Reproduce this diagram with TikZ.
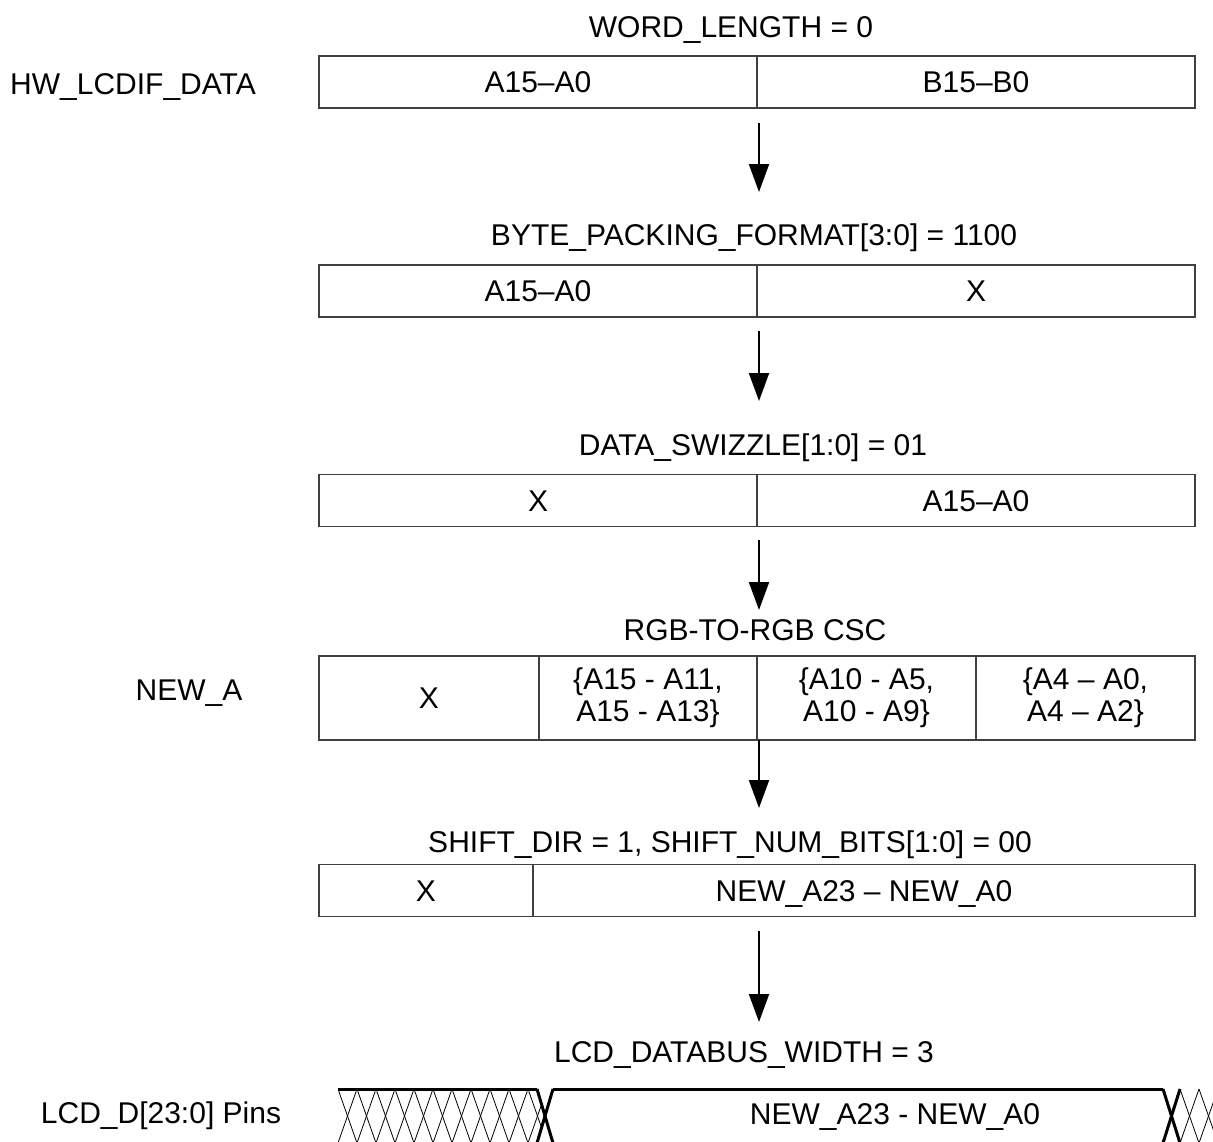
\documentclass[tikz,border=0pt]{standalone}
\usepackage{fontspec}
\setmainfont{Liberation Sans}
\usetikzlibrary{arrows.meta}
\begin{document}
\begin{tikzpicture}[x=1pt,y=-1pt,
  basefont/.style={font=\fontsize{30}{32}\selectfont},
  lab/.style={basefont, inner sep=0pt, text height=21.5pt, text depth=0pt},
  cell/.style={basefont, draw=black!75, line width=1.2pt, inner sep=0pt,
               text height=21.5pt, text depth=0pt, minimum height=52pt},
  cellb/.style={basefont, draw=black!75, line width=1.2pt, inner sep=0pt,
               align=center, minimum height=84pt},
  arr/.style={line width=2pt, -{Triangle[width=20pt,length=28pt]}},
  bus/.style={line width=3pt},
  hatch/.style={line width=0.8pt}]
\clip (0,0) rectangle (1213,1141);

% titles
\node[lab] (t1) at (731,27) {WORD\_LENGTH = 0};
\node[lab] (t2) at (754,235) {BYTE\_PACKING\_FORMAT[3:0] = 1100};
\node[lab] (t3) at (753,445) {DATA\_SWIZZLE[1:0] = 01};
\node[lab] (t4) at (755,630) {RGB-TO-RGB CSC};
\node[lab] (t5) at (730,842) {SHIFT\_DIR = 1, SHIFT\_NUM\_BITS[1:0] = 00};
\node[lab] (t6) at (744,1052) {LCD\_DATABUS\_WIDTH = 3};

% left labels
\node[lab, anchor=west] (l1) at (10,84) {HW\_LCDIF\_DATA};
\node[lab] (l2) at (189,690) {NEW\_A};
\node[lab] (l3) at (161,1113) {LCD\_D[23:0] Pins};

% box 1
\node[cell, minimum width=438pt] (b1a) at (538,82) {A15–A0};
\node[cell, minimum width=438pt] (b1b) at (976,82) {B15–B0};
% box 2
\node[cell, minimum width=438pt] (b2a) at (538,291) {A15–A0};
\node[cell, minimum width=438pt] (b2b) at (976,291) {X};
% box 3
\node[cell, minimum width=438pt] (b3a) at (538,500.5) {X};
\node[cell, minimum width=438pt] (b3b) at (976,500.5) {A15–A0};
% box 4
\node[cellb, minimum width=220pt] (b4a) at (429,698) {X};
\node[cellb, minimum width=218pt] (b4b) at (648,698) {\{A15 - A11,\\A15 - A13\}};
\node[cellb, minimum width=219pt] (b4c) at (866.5,698) {\{A10 - A5,\\A10 - A9\}};
\node[cellb, minimum width=219pt] (b4d) at (1085.5,698) {\{A4 – A0,\\A4 – A2\}};
% box 5
\node[cell, minimum width=214pt] (b5a) at (426,890.5) {X};
\node[cell, minimum width=662pt] (b5b) at (864,890.5) {NEW\_A23 – NEW\_A0};

% arrows
\coordinate (s1) at (759,123); \coordinate (e1) at (759,192);
\coordinate (s2) at (759,331); \coordinate (e2) at (759,401);
\coordinate (s3) at (759,540); \coordinate (e3) at (759,610);
\coordinate (s4) at (759,740); \coordinate (e4) at (759,808);
\coordinate (s5) at (759,931); \coordinate (e5) at (759,1022);
\draw[arr] (s1) -- (e1);
\draw[arr] (s2) -- (e2);
\draw[arr] (s3) -- (e3);
\draw[arr] (s4) -- (e4);
\draw[arr] (s5) -- (e5);

% bus waveform
\begin{scope}
  \clip (338,1080) rectangle (541,1150);
  \foreach \i in {0,...,10} {
    \draw[hatch] (338+19*\i,1089) -- (338+19*\i+19,1143);
    \draw[hatch] (338+19*\i,1143) -- (338+19*\i+19,1089);
  }
\end{scope}
\begin{scope}
  \clip (1178,1080) rectangle (1213,1150);
  \foreach \i in {0,...,2} {
    \draw[hatch] (1180+19*\i,1089) -- (1180+19*\i+19,1143);
    \draw[hatch] (1180+19*\i,1143) -- (1180+19*\i+19,1089);
  }
\end{scope}
\draw[bus] (338,1089) -- (537,1089);
\draw[bus] (537,1089) -- (553,1143);
\draw[bus] (553,1089) -- (537,1143);
\draw[bus] (553,1089) -- (1163,1089);
\draw[bus] (1163,1089) -- (1180,1143);
\draw[bus] (1180,1089) -- (1163,1143);
\node[lab] (w1) at (895,1114) {NEW\_A23 - NEW\_A0};
\end{tikzpicture}
\end{document}
